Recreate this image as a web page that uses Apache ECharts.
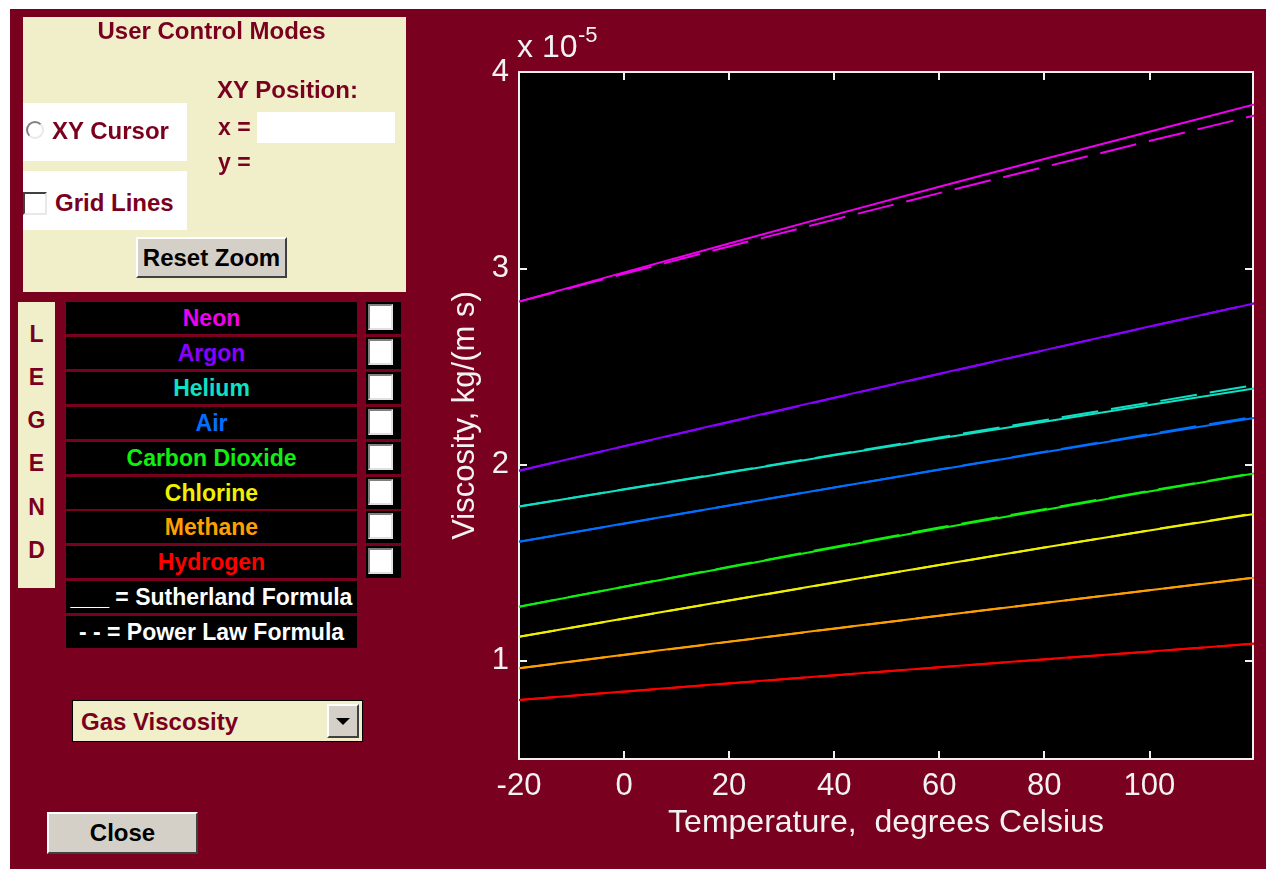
<!DOCTYPE html>
<html><head><meta charset="utf-8">
<script src="https://cdn.jsdelivr.net/npm/echarts@6/dist/echarts.min.js"></script>
<style>
html,body{margin:0;padding:0;width:1266px;height:869px;overflow:hidden;background:#fff;}
#frame{position:absolute;left:10px;top:9px;width:1256px;height:860px;background:#7a0020;}
#chart{position:absolute;left:0;top:0;width:1266px;height:869px;}
.ui{position:absolute;font-family:"Liberation Sans",Arial,sans-serif;font-weight:bold;font-size:23px;white-space:pre;}
.big{font-size:24px;}
.beige{background:#f1efca;}
.white{background:#fff;}
.mar{color:#7a0020;}
.btn{background:#d4d0c8;box-sizing:border-box;border:2px solid;border-color:#fff #404040 #404040 #fff;color:#000;text-align:center;}
.row{position:absolute;left:66px;width:291px;height:32px;background:#000;line-height:32px;text-align:center;}
.ckcell{position:absolute;left:366px;width:35px;height:32px;background:#000;}
.ck{position:absolute;left:2px;top:2px;width:25px;height:26px;box-sizing:border-box;background:#fff;border:2px solid;border-color:#808080 #e0e0e0 #e0e0e0 #808080;}
.lg{position:absolute;left:18px;width:37px;text-align:center;font-size:23px;}
</style>
</head>
<body>
<div id="frame"></div>
<div id="chart"></div>

<!-- User control panel -->
<div class="ui beige" style="left:23px;top:17px;width:383px;height:275px;"></div>
<div class="ui mar big" style="left:20px;top:17px;width:383px;line-height:28px;text-align:center;">User Control Modes</div>
<div class="ui mar big" style="left:217px;top:76px;line-height:28px;">XY Position:</div>
<div class="ui white" style="left:23px;top:103px;width:164px;height:58px;"></div>
<div class="ui" style="left:26px;top:121px;width:18px;height:18px;box-sizing:border-box;border-radius:50%;border:2px solid;border-color:#808080 #e8e8e8 #e8e8e8 #808080;background:#fff;"></div>
<div class="ui mar big" style="left:52px;top:117px;line-height:28px;">XY Cursor</div>
<div class="ui mar" style="left:218px;top:113px;line-height:28px;">x =</div>
<div class="ui white" style="left:257px;top:112px;width:138px;height:31px;"></div>
<div class="ui mar" style="left:218px;top:148px;line-height:28px;">y =</div>
<div class="ui white" style="left:23px;top:171px;width:164px;height:59px;"></div>
<div class="ui" style="left:23px;top:192px;width:24px;height:23px;box-sizing:border-box;border:2px solid;border-color:#404040 #e8e8e8 #e8e8e8 #404040;background:#fff;"></div>
<div class="ui mar big" style="left:55px;top:189px;line-height:28px;">Grid Lines</div>
<div class="ui btn big" style="left:136px;top:237px;width:151px;height:41px;line-height:37px;">Reset Zoom</div>

<!-- LEGEND strip -->
<div class="ui beige" style="left:18px;top:302px;width:37px;height:286px;"></div>
<div class="ui mar lg" style="top:321px;">L</div>
<div class="ui mar lg" style="top:364px;">E</div>
<div class="ui mar lg" style="top:407px;">G</div>
<div class="ui mar lg" style="top:450px;">E</div>
<div class="ui mar lg" style="top:494px;">N</div>
<div class="ui mar lg" style="top:537px;">D</div>

<div id="legendRows"></div>

<!-- dropdown -->
<div class="ui beige" style="left:72px;top:700px;width:291px;height:42px;box-sizing:border-box;border:1px solid #000;"></div>
<div class="ui mar big" style="left:81px;top:708px;line-height:28px;">Gas Viscosity</div>
<div class="ui btn" style="left:327px;top:704px;width:32px;height:34px;"></div>
<div class="ui" style="left:336px;top:718px;width:0;height:0;border-left:7px solid transparent;border-right:7px solid transparent;border-top:7px solid #000;"></div>

<!-- close -->
<div class="ui btn big" style="left:47px;top:812px;width:151px;height:42px;line-height:38px;">Close</div>

<script>
// ---- data ----
const temperature = [-20, 0, 20, 40, 60, 80, 100, 120];
const xTicks = [-20, 0, 20, 40, 60, 80, 100];
const yTicks = [1, 2, 3, 4];

const neonSutherland     = [2.830, 2.979, 3.126, 3.272, 3.415, 3.557, 3.696, 3.835];
const neonPowerLaw       = [2.830, 2.972, 3.111, 3.248, 3.383, 3.516, 3.648, 3.778];
const argonSutherland    = [1.969, 2.094, 2.218, 2.341, 2.463, 2.583, 2.703, 2.821];
const argonPowerLaw      = [1.969, 2.093, 2.216, 2.339, 2.461, 2.582, 2.702, 2.822];
const heliumSutherland   = [1.786, 1.873, 1.960, 2.047, 2.133, 2.218, 2.303, 2.388];
const heliumPowerLaw     = [1.786, 1.874, 1.962, 2.050, 2.138, 2.226, 2.315, 2.405];
const airSutherland      = [1.607, 1.700, 1.792, 1.883, 1.974, 2.063, 2.151, 2.238];
const airPowerLaw        = [1.607, 1.699, 1.791, 1.883, 1.975, 2.065, 2.155, 2.244];
const co2Sutherland      = [1.276, 1.377, 1.477, 1.576, 1.674, 1.769, 1.863, 1.955];
const co2PowerLaw        = [1.276, 1.378, 1.479, 1.580, 1.679, 1.773, 1.866, 1.957];
const chlorineSutherland = [1.123, 1.216, 1.308, 1.399, 1.488, 1.577, 1.664, 1.749];
const chlorinePowerLaw   = [1.123, 1.215, 1.307, 1.398, 1.488, 1.577, 1.665, 1.751];
const methaneSutherland  = [0.962, 1.031, 1.098, 1.165, 1.230, 1.295, 1.360, 1.423];
const methanePowerLaw    = [0.962, 1.030, 1.097, 1.164, 1.230, 1.295, 1.360, 1.424];
const hydrogenSutherland = [0.801, 0.844, 0.886, 0.927, 0.967, 1.008, 1.048, 1.087];
const hydrogenPowerLaw   = [0.801, 0.843, 0.885, 0.926, 0.967, 1.007, 1.047, 1.088];

const gasNames  = ['Neon', 'Argon', 'Helium', 'Air', 'Carbon Dioxide', 'Chlorine', 'Methane', 'Hydrogen'];
const gasColors = ['#f000f0', '#8a00ff', '#10e0c4', '#0070ff', '#10f010', '#f0f000', '#ffa000', '#ff0000'];
const sutherland = [neonSutherland, argonSutherland, heliumSutherland, airSutherland, co2Sutherland, chlorineSutherland, methaneSutherland, hydrogenSutherland];
const powerLaw   = [neonPowerLaw, argonPowerLaw, heliumPowerLaw, airPowerLaw, co2PowerLaw, chlorinePowerLaw, methanePowerLaw, hydrogenPowerLaw];
const formulaRows = ['___ = Sutherland Formula', '- - = Power Law Formula'];

// ---- legend table (GUI) ----
const lr = document.getElementById('legendRows');
const pitch = 34.9;
gasNames.forEach((n, i) => {
  const top = Math.round(302 + pitch * i);
  const d = document.createElement('div');
  d.className = 'ui row'; d.style.top = top + 'px'; d.style.color = gasColors[i];
  d.textContent = n; lr.appendChild(d);
  const c = document.createElement('div');
  c.className = 'ckcell'; c.style.top = top + 'px';
  const k = document.createElement('div'); k.className = 'ck'; c.appendChild(k);
  lr.appendChild(c);
});
formulaRows.forEach((t, j) => {
  const top = Math.round(302 + pitch * (8 + j));
  const d = document.createElement('div');
  d.className = 'ui row'; d.style.top = top + 'px'; d.style.color = '#fff';
  d.textContent = t; lr.appendChild(d);
});

// ---- chart ----
const txt = '#f2f2f2';
const font = 'Liberation Sans';
const series = [];
gasNames.forEach((n, i) => {
  series.push({
    name: n + ' (power law)', type: 'line', showSymbol: false, symbol: 'none',
    data: temperature.map((t, k) => [t, powerLaw[i][k]]),
    lineStyle: { color: gasColors[i], width: 2, type: [37, 13] }, z: 2
  });
  series.push({
    name: n + ' (Sutherland)', type: 'line', showSymbol: false, symbol: 'none',
    data: temperature.map((t, k) => [t, sutherland[i][k]]),
    lineStyle: { color: gasColors[i], width: 2 }, z: 3
  });
});

const axisLine = { show: true, onZero: false, lineStyle: { color: '#f0f0f0', width: 2 } };
const chart = echarts.init(document.getElementById('chart'), null, { renderer: 'canvas' });
chart.setOption({
  animation: false,
  grid: { left: 519, top: 72, width: 734, height: 687, show: true, backgroundColor: '#000', borderWidth: 0 },
  xAxis: [
    {
      type: 'value', min: -20, max: 119.75, position: 'bottom',
      axisLine: axisLine,
      axisTick: { show: true, inside: true, length: 8, customValues: xTicks, lineStyle: { color: '#f0f0f0', width: 2 } },
      axisLabel: { customValues: xTicks, color: txt, fontSize: 31, fontFamily: font, margin: 12 },
      splitLine: { show: false },
      name: 'Temperature,  degrees Celsius', nameLocation: 'middle', nameGap: 48,
      nameTextStyle: { color: txt, fontSize: 32, fontFamily: font }
    },
    {
      type: 'value', min: -20, max: 119.75, position: 'top',
      axisLine: axisLine,
      axisTick: { show: true, inside: true, length: 8, customValues: xTicks, lineStyle: { color: '#f0f0f0', width: 2 } },
      axisLabel: { show: false }, splitLine: { show: false }
    }
  ],
  yAxis: [
    {
      type: 'value', min: 0.5, max: 4, position: 'left',
      axisLine: axisLine,
      axisTick: { show: true, inside: true, length: 8, customValues: yTicks, lineStyle: { color: '#f0f0f0', width: 2 } },
      axisLabel: { customValues: yTicks, color: txt, fontSize: 31, fontFamily: font, margin: 10 },
      splitLine: { show: false },
      name: 'Viscosity, kg/(m s)', nameLocation: 'middle', nameGap: 37,
      nameTextStyle: { color: txt, fontSize: 31, fontFamily: font }
    },
    {
      type: 'value', min: 0.5, max: 4, position: 'right',
      axisLine: axisLine,
      axisTick: { show: true, inside: true, length: 8, customValues: yTicks, lineStyle: { color: '#f0f0f0', width: 2 } },
      axisLabel: { show: false }, splitLine: { show: false }
    }
  ],
  graphic: [
    { type: 'text', left: 517, top: 32, style: { text: 'x 10', fill: txt, font: '32px "Liberation Sans"' } },
    { type: 'text', left: 578, top: 25, style: { text: '-5', fill: txt, font: '22px "Liberation Sans"' } }
  ],
  series: series
});
</script>
</body></html>
